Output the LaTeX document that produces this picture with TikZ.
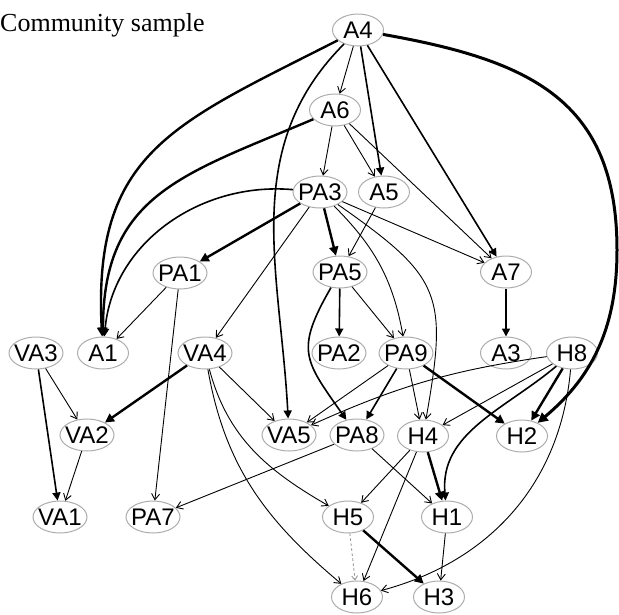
\documentclass[tikz,border=0pt]{standalone}
\usepackage{fontspec}
\setmainfont{Liberation Sans}
\newfontfamily\titlefont{Liberation Serif}
\usetikzlibrary{shapes.geometric,arrows.meta}
\newcommand{\lbl}[1]{\makebox[0pt]{\raisebox{-0.36em}[0pt][0pt]{#1}}}
\begin{document}
\begin{tikzpicture}[x=1pt,y=1pt,
  nd/.style={ellipse,draw=gray!65,line width=1pt,minimum width=51pt,minimum height=32pt,inner sep=0pt,font=\fontsize{24}{24}\selectfont},
  w3/.style={minimum width=54pt},
  ethin/.style={line width=0.9pt,-{Straight Barb[length=6pt,width=8pt]}},
  emed/.style={line width=1.6pt,-{Triangle[length=8pt,width=8pt]}},
  ethk/.style={line width=2.4pt,-{Triangle[length=9pt,width=9pt]}},
  evthk/.style={line width=3pt,-{Triangle[length=10pt,width=10pt]}},
  edot/.style={line width=0.9pt,gray!80,dash pattern=on 2.5pt off 2.5pt,-{Straight Barb[length=4pt,width=6pt]}}]
\useasboundingbox (0,0) rectangle (619,-614);
\node[anchor=base west,inner sep=0pt,font=\titlefont\fontsize{26}{26}\selectfont] (title) at (0,-31) {Community sample};
% nodes
\node[nd] (A4) at (358,-30) {\lbl{A4}};
\node[nd] (A6) at (335,-110) {\lbl{A6}};
\node[nd,w3] (PA3) at (320,-192) {\lbl{PA3}};
\node[nd] (A5) at (384,-192) {\lbl{A5}};
\node[nd,w3] (PA1) at (180,-273) {\lbl{PA1}};
\node[nd,w3] (PA5) at (340,-272) {\lbl{PA5}};
\node[nd] (A7) at (506,-272) {\lbl{A7}};
\node[nd,w3] (VA3) at (36,-353) {\lbl{VA3}};
\node[nd] (A1) at (103,-353) {\lbl{A1}};
\node[nd,w3] (VA4) at (205,-353) {\lbl{VA4}};
\node[nd,w3] (PA2) at (339,-353) {\lbl{PA2}};
\node[nd,w3] (PA9) at (406,-353) {\lbl{PA9}};
\node[nd] (A3) at (506,-353) {\lbl{A3}};
\node[nd] (H8) at (572,-353) {\lbl{H8}};
\node[nd,w3] (VA2) at (87,-435) {\lbl{VA2}};
\node[nd,w3] (VA5) at (289,-435) {\lbl{VA5}};
\node[nd,w3] (PA8) at (357,-435) {\lbl{PA8}};
\node[nd] (H4) at (423,-436) {\lbl{H4}};
\node[nd] (H2) at (522,-436) {\lbl{H2}};
\node[nd,w3] (VA1) at (60,-517) {\lbl{VA1}};
\node[nd,w3] (PA7) at (153,-517) {\lbl{PA7}};
\node[nd] (H5) at (348,-517) {\lbl{H5}};
\node[nd] (H1) at (447,-517) {\lbl{H1}};
\node[nd] (H6) at (357,-597) {\lbl{H6}};
\node[nd] (H3) at (439,-597) {\lbl{H3}};
\coordinate (via) at (617,-250);
% edges from A4
\draw[ethk] (A4) to[out=207,in=93,looseness=1.25] (A1);
\draw[emed] (A4) to[out=225,in=93] (VA5);
\draw[ethin] (A4) -- (A6);
\draw[emed] (A4) -- (A5);
\draw[emed] (A4) -- (A7);
\draw[line width=3pt] (A4) to[out=-10,in=90,looseness=1.2] (via);
\draw[evthk] (via) to[out=-90,in=40] (H2);
% A6
\draw[ethk] (A6) to[out=203,in=90,looseness=1.2] (A1);
\draw[ethin] (A6) -- (PA3);
\draw[ethin] (A6) -- (A5);
\draw[ethin] (A6) -- (A7);
% PA3
\draw[emed] (PA3) to[out=175,in=85] (A1);
\draw[ethk] (PA3) -- (PA1);
\draw[ethin] (PA3) -- (VA4);
\draw[ethk] (PA3) -- (PA5);
\draw[ethin] (PA3) -- (A7);
\draw[ethin] (PA3) to[out=-45,in=100] (PA9);
\draw[ethin] (PA3) to[out=-35,in=80,looseness=1.4] (H4);
% A5, PA1, PA5, A7
\draw[ethin] (A5) -- (PA5);
\draw[ethin] (PA1) -- (A1);
\draw[ethin] (PA1) -- (PA7);
\draw[emed] (PA5) -- (PA2);
\draw[ethin] (PA5) -- (PA9);
\draw[emed] (PA5) to[out=240,in=125,looseness=1.4] (PA8);
\draw[emed] (A7) -- (A3);
% VA3, VA4, VA2
\draw[emed] (VA3) -- (VA1);
\draw[ethin] (VA3) -- (VA2);
\draw[ethk] (VA4) -- (VA2);
\draw[ethin] (VA4) -- (VA5);
\draw[ethin] (VA4) to[out=-75,in=150] (H5);
\draw[ethin] (VA4) to[out=-80,in=140] (H6);
\draw[ethin] (VA2) -- (VA1);
% PA9
\draw[ethin] (PA9) -- (VA5);
\draw[emed] (PA9) -- (PA8);
\draw[ethin] (PA9) -- (H4);
\draw[ethk] (PA9) -- (H2);
% H8
\draw[ethin] (H8) to[bend right=8] (VA5);
\draw[ethin] (H8) -- (H4);
\draw[emed] (H8) to[out=220,in=95] (H1);
\draw[ethk] (H8) -- (H2);
\draw[ethin] (H8) to[out=-95,in=15] (H6);
% PA8, H4, H5, H1
\draw[ethin] (PA8) -- (PA7);
\draw[ethin] (PA8) -- (H1);
\draw[ethin] (H4) -- (H5);
\draw[ethin] (H4) -- (H6);
\draw[ethk] (H4) -- (H1);
\draw[edot] (H5) -- (H6);
\draw[ethk] (H5) -- (H3);
\draw[ethin] (H1) -- (H3);
\end{tikzpicture}
\end{document}
